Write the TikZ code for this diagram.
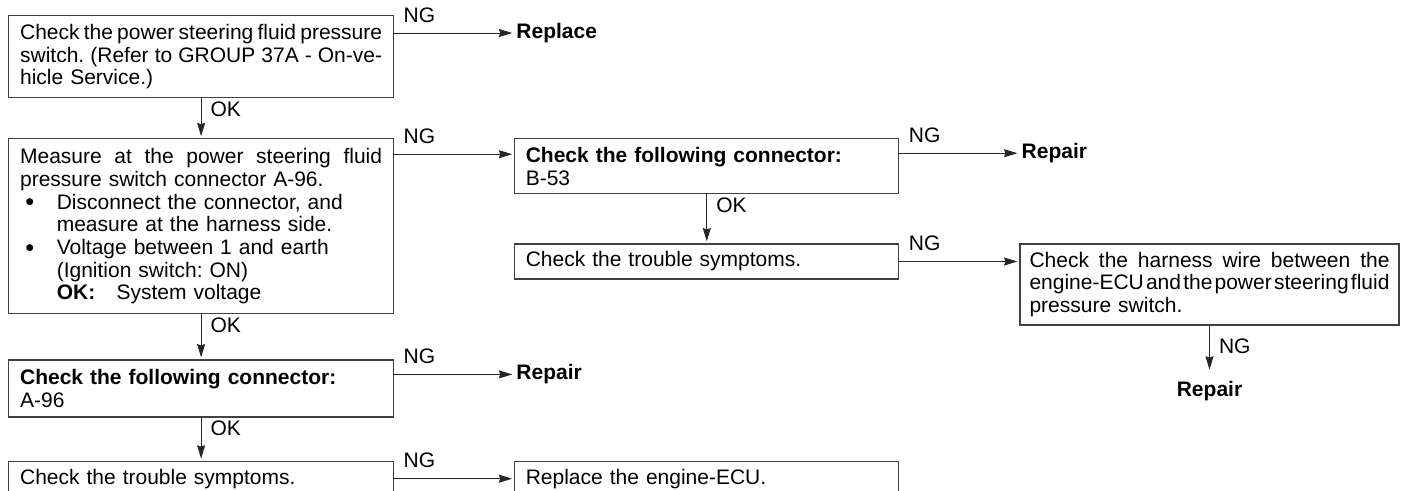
\documentclass[tikz,border=0pt]{standalone}
\usepackage{fontspec}
\setmainfont{Liberation Sans}
\usetikzlibrary{arrows.meta, positioning}

\newcommand{\jl}[2][271.5pt]{\makebox[#1][s]{\spaceskip=0.278em plus 1em minus 0.24em\xspaceskip=0pt #2}}
\newcommand{\bul}{\makebox[27.5pt][l]{\hspace{4pt}\raisebox{-1.2pt}{\fontsize{19}{17}\selectfont\textbullet}}}
\newcommand{\bulind}{\hspace*{27.5pt}}

\begin{document}
\frenchspacing
\begin{tikzpicture}[
    every node/.style={font=\fontsize{15.75}{17}\selectfont},
    box/.style={rectangle, draw=black!75, line width=0.9pt, minimum width=288.75pt, text width=271.5pt, inner xsep=2pt, align=left, execute at begin node={\parindent=0pt}},
    midbox/.style={box, minimum width=288pt, text width=271.5pt},
    widebox/.style={box, minimum width=284.25pt, text width=270pt},
    result/.style={inner sep=1.5pt, font=\fontsize{15.75}{17}\selectfont\bfseries},
    nglabel/.style={inner sep=0pt, anchor=base west, xshift=6.75pt, yshift=8.25pt},
    oklabel/.style={inner sep=0pt, anchor=north west, xshift=6.75pt, yshift=-2.25pt},
    arr/.style={-{Stealth[length=10pt, width=6pt, inset=1pt]}, draw=black!85, line width=0.75pt, shorten >=1.5pt},
]
\useasboundingbox (0,0) rectangle (1055.25pt,-367.5pt);
\clip (0,0) rectangle (1055.25pt,-367.5pt);

% Left column
\node[box, minimum height=61.5pt, anchor=north west] (chk) at (6pt,-11.25pt)
  {\jl{Check the power steering fluid pressure}\\ \jl{switch. (Refer to GROUP 37A - On-ve-}\\ hicle Service.)};
\node[box, minimum height=131.25pt, below=30pt of chk] (meas)
  {\jl{Measure at the power steering fluid}\\ pressure switch connector A-96.\\
   \bul Disconnect the connector, and\\ \bulind measure at the harness side.\\
   \bul Voltage between 1 and earth\\ \bulind (Ignition switch: ON)\\
   \bulind\textbf{OK:}\hspace{16pt}System voltage};
\node[box, minimum height=42.75pt, below=33.75pt of meas] (conA) {\textbf{Check the following connector:}\\ A-96};
\node[box, minimum height=26.25pt, below=32.25pt of conA] (symA) {Check the trouble symptoms.};

% Middle column
\node[midbox, minimum height=41.25pt, anchor=north west] (conB) at ([xshift=90pt]meas.north east) {\textbf{Check the following connector:}\\ B-53};
\node[midbox, minimum height=26.25pt, below=36.75pt of conB] (symB) {Check the trouble symptoms.};
\node[midbox, minimum height=26.25pt, anchor=north west] (ecu) at ([xshift=90pt]symA.north east) {Replace the engine-ECU.};

% Right column
\node[widebox, minimum height=60.75pt, anchor=north west] (wire) at ([xshift=90pt]symB.north east)
  {\jl[270pt]{Check the harness wire between the}\\ \jl[270pt]{engine-ECU and the power steering fluid}\\ pressure switch.};

% Results
\node[result, anchor=west] (repl) at ([xshift=90pt, yshift=-13.5pt]chk.north east) {Replace};
\node[result, anchor=west] (repB) at ([xshift=90pt, yshift=-11.25pt]conB.north east) {Repair};
\node[result, anchor=west] (repA) at ([xshift=90pt, yshift=-11.25pt]conA.north east) {Repair};
\node[result, below=39.75pt of wire] (repW) {Repair};

% OK flow
\draw[arr] (chk) -- (meas) node[oklabel, pos=0] {OK};
\draw[arr] (meas) -- (conA) node[oklabel, pos=0] {OK};
\draw[arr] (conA) -- (symA) node[oklabel, pos=0] {OK};
\draw[arr] (conB) -- (symB) node[oklabel, pos=0] {OK};

% NG flow
\draw[arr] (chk.east |- repl) -- (repl) node[nglabel, pos=0] {NG};
\draw[arr] ([yshift=-12pt]meas.north east) -- ([yshift=-12pt]conB.north west) node[nglabel, pos=0] {NG};
\draw[arr] (conB.east |- repB) -- (repB) node[nglabel, pos=0] {NG};
\draw[arr] (symB.east) -- (symB.east -| wire.west) node[nglabel, pos=0] {NG};
\draw[arr] (conA.east |- repA) -- (repA) node[nglabel, pos=0] {NG};
\draw[arr] (symA.east) -- (ecu.west) node[nglabel, pos=0] {NG};
\draw[arr, shorten >=6.75pt] (wire) -- (repW) node[oklabel, pos=0, yshift=-7pt] {NG};
\end{tikzpicture}
\end{document}
